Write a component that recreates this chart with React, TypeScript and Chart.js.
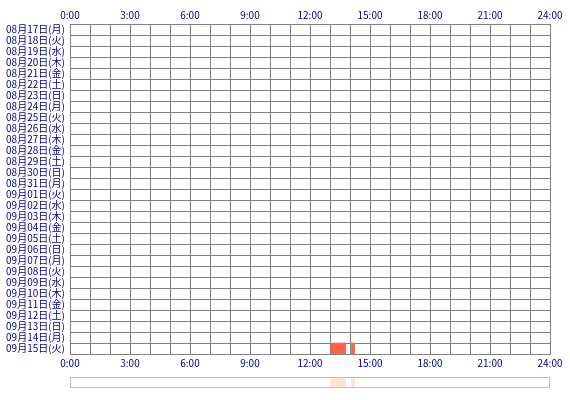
import React, { useEffect, useRef } from "react";
import { Chart, registerables } from "chart.js";

Chart.register(...registerables);

const dates: string[] = [
  "08月17日(月)", "08月18日(火)", "08月19日(水)", "08月20日(木)", "08月21日(金)",
  "08月22日(土)", "08月23日(日)", "08月24日(月)", "08月25日(火)", "08月26日(水)",
  "08月27日(木)", "08月28日(金)", "08月29日(土)", "08月30日(日)", "08月31日(月)",
  "09月01日(火)", "09月02日(水)", "09月03日(木)", "09月04日(金)", "09月05日(土)",
  "09月06日(日)", "09月07日(月)", "09月08日(火)", "09月09日(水)", "09月10日(木)",
  "09月11日(金)", "09月12日(土)", "09月13日(日)", "09月14日(月)", "09月15日(火)",
];

const sessionDays: string[] = ["09月15日(火)", "09月15日(火)"];
const sessionStarts: number[] = [13.05, 14.07];
const sessionEnds: number[] = [13.78, 14.23];

const hourMin = 0;
const hourMax = 24;

const FONT = "'Noto Sans CJK JP', 'DejaVu Sans', sans-serif";
const NAVY = "#000080";
const GRID = "#808080";

const timeLabel = (v: number | string) => {
  const n = Number(v);
  return n % 3 === 0 ? `${n}:00` : "";
};

const framePlugin = {
  id: "frame",
  afterDraw(chart: any) {
    const { ctx, chartArea } = chart;
    ctx.save();
    ctx.strokeStyle = "#c0c0c0";
    ctx.lineWidth = 1;
    ctx.strokeRect(
      Math.round(chartArea.left) + 0.5,
      Math.round(chartArea.top) + 0.5,
      Math.round(chartArea.right - chartArea.left) - 1,
      Math.round(chartArea.bottom - chartArea.top) - 1
    );
    ctx.restore();
  },
};

export default function App() {
  const mainRef = useRef<HTMLCanvasElement>(null);
  const stripRef = useRef<HTMLCanvasElement>(null);

  useEffect(() => {
    const sessions = sessionDays.map((d, i) => ({ y: d, x: [sessionStarts[i], sessionEnds[i]] }));
    const main = new Chart(mainRef.current!, {
      type: "bar",
      data: {
        labels: dates,
        datasets: [
          {
            data: sessions as any,
            backgroundColor: "#ff6347",
            borderWidth: 0,
            barPercentage: 1,
            categoryPercentage: 1,
            xAxisID: "x",
          },
        ],
      },
      options: {
        indexAxis: "y",
        responsive: false,
        animation: false,
        devicePixelRatio: 1,
        layout: { padding: { left: 0, right: 20, top: 0, bottom: 0 } },
        plugins: { legend: { display: false }, tooltip: { enabled: false } },
        scales: {
          x: {
            type: "linear",
            position: "top",
            min: hourMin,
            max: hourMax,
            ticks: {
              stepSize: 1,
              autoSkip: false,
              maxRotation: 0,
              padding: 3,
              color: NAVY,
              font: { family: FONT, size: 10 },
              callback: timeLabel,
            },
            grid: { color: GRID, lineWidth: 1, drawTicks: false },
            border: { color: GRID },
            afterFit: (s: any) => {
              s.height = 24;
            },
          },
          x2: {
            type: "linear",
            position: "bottom",
            min: hourMin,
            max: hourMax,
            ticks: {
              stepSize: 1,
              autoSkip: false,
              maxRotation: 0,
              padding: 3,
              color: NAVY,
              font: { family: FONT, size: 10 },
              callback: timeLabel,
            },
            grid: { display: false, drawTicks: false },
            border: { color: GRID },
            afterFit: (s: any) => {
              s.height = 18;
            },
          },
          y: {
            type: "category",
            offset: true,
            ticks: {
              autoSkip: false,
              padding: 5,
              color: NAVY,
              font: { family: FONT, size: 10 },
            },
            grid: { color: GRID, lineWidth: 1, drawTicks: false, offset: true },
            border: { color: GRID },
            afterFit: (s: any) => {
              s.width = 70;
            },
          },
        },
      },
    });

    const strip = new Chart(stripRef.current!, {
      type: "bar",
      data: {
        labels: ["all"],
        datasets: [
          {
            data: sessionStarts.map((s, i) => ({ y: "all", x: [s, sessionEnds[i]] })) as any,
            backgroundColor: "#ffe4d4",
            borderWidth: 0,
            barPercentage: 1,
            categoryPercentage: 1,
          },
        ],
      },
      options: {
        indexAxis: "y",
        responsive: false,
        animation: false,
        devicePixelRatio: 1,
        layout: { padding: { left: 70, right: 20, top: 5, bottom: 12 } },
        plugins: { legend: { display: false }, tooltip: { enabled: false } },
        scales: {
          x: { type: "linear", min: hourMin, max: hourMax, display: false },
          y: { type: "category", display: false, offset: true },
        },
      },
      plugins: [framePlugin],
    });

    return () => {
      main.destroy();
      strip.destroy();
    };
  }, []);

  return (
    <div style={{ position: "absolute", left: 0, top: 0, width: 570, height: 400, background: "#fff" }}>
      <canvas ref={mainRef} width={570} height={372} style={{ display: "block" }} />
      <canvas ref={stripRef} width={570} height={28} style={{ display: "block" }} />
    </div>
  );
}
